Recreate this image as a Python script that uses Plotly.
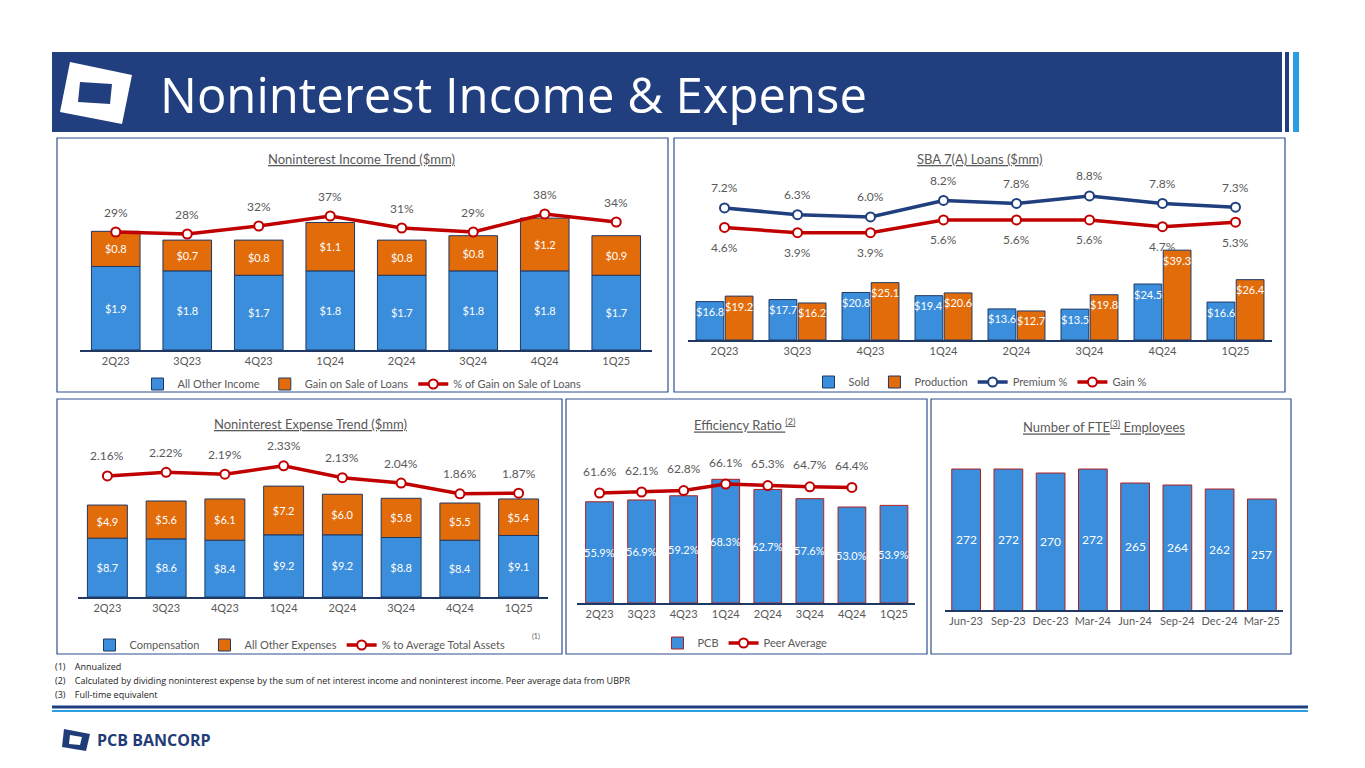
import plotly.graph_objects as go

W, H = 1349, 752  # page body keeps an 8px margin
OFF = 8

quarters = ["2Q23", "3Q23", "4Q23", "1Q24", "2Q24", "3Q24", "4Q24", "1Q25"]
months = ["Jun-23", "Sep-23", "Dec-23", "Mar-24", "Jun-24", "Sep-24", "Dec-24", "Mar-25"]

# Noninterest income ($mm)
other_income = [1.9, 1.8, 1.7, 1.8, 1.7, 1.8, 1.8, 1.7]
gain_on_sale = [0.8, 0.7, 0.8, 1.1, 0.8, 0.8, 1.2, 0.9]
gain_pct = [29, 28, 32, 37, 31, 29, 38, 34]

# SBA 7(A) loans ($mm)
sba_sold = [16.8, 17.7, 20.8, 19.4, 13.6, 13.5, 24.5, 16.6]
sba_production = [19.2, 16.2, 25.1, 20.6, 12.7, 19.8, 39.3, 26.4]
premium_pct = [7.2, 6.3, 6.0, 8.2, 7.8, 8.8, 7.8, 7.3]
gain_sba_pct = [4.6, 3.9, 3.9, 5.6, 5.6, 5.6, 4.7, 5.3]

# Noninterest expense ($mm)
compensation = [8.7, 8.6, 8.4, 9.2, 9.2, 8.8, 8.4, 9.1]
other_expense = [4.9, 5.6, 6.1, 7.2, 6.0, 5.8, 5.5, 5.4]
exp_to_assets = [2.16, 2.22, 2.19, 2.33, 2.13, 2.04, 1.86, 1.87]

# Efficiency ratio (%)
eff_pcb = [55.9, 56.9, 59.2, 68.3, 62.7, 57.6, 53.0, 53.9]
eff_peer = [61.6, 62.1, 62.8, 66.1, 65.3, 64.7, 64.4]

# FTE employees
fte = [272, 272, 270, 272, 265, 264, 262, 257]
FTE_MIN = 201.5

BLUE = "#3B8EDB"
ORANGE = "#E36C0A"
RED = "#C00000"
NAVY = "#203F7E"
GREY = "#595959"
FONT = "Lato"


def px(x):
    return (x - OFF) / W


def py(y):
    return 1 - (y - OFF) / H


def xd(a, b):
    return [px(a), px(b)]


def yd(top, bottom):
    return [py(bottom), py(top)]


fig = go.Figure()
bar_line = dict(color="#1F3864", width=1)
red_line = dict(color=RED, width=3.5)
red_marker = dict(color="white", size=9, line=dict(color=RED, width=2))
in_text = dict(color="white", size=11, family=FONT)

# Panel 1
fig.add_trace(go.Bar(x=quarters, y=other_income, name="All Other Income", marker=dict(color=BLUE, line=bar_line),
                     width=0.68, offset=-0.34, texttemplate="$%{y:.1f}", textposition="inside",
                     insidetextanchor="middle", textfont=in_text, xaxis="x", yaxis="y", legend="legend"))
fig.add_trace(go.Bar(x=quarters, y=gain_on_sale, base=other_income, name="Gain on Sale of Loans",
                     marker=dict(color=ORANGE, line=bar_line), width=0.68, offset=-0.34,
                     texttemplate="$%{y:.1f}", textposition="inside", insidetextanchor="middle",
                     textfont=in_text, xaxis="x", yaxis="y", legend="legend"))
fig.add_trace(go.Scatter(x=quarters, y=gain_pct, name="% of Gain on Sale of Loans", mode="lines+markers",
                         line=red_line, marker=red_marker, xaxis="x", yaxis="y2", legend="legend"))

# Panel 2
fig.add_trace(go.Bar(x=quarters, y=sba_sold, name="Sold", marker=dict(color=BLUE, line=bar_line),
                     width=0.38, offset=-0.39, xaxis="x2", yaxis="y3", legend="legend2"))
fig.add_trace(go.Bar(x=quarters, y=sba_production, name="Production", marker=dict(color=ORANGE, line=bar_line),
                     width=0.38, offset=0.01, xaxis="x2", yaxis="y3", legend="legend2"))
fig.add_trace(go.Scatter(x=quarters, y=premium_pct, name="Premium %", mode="lines+markers",
                         line=dict(color=NAVY, width=3.5),
                         marker=dict(color="white", size=9, line=dict(color=NAVY, width=2)),
                         xaxis="x2", yaxis="y4", legend="legend2"))
fig.add_trace(go.Scatter(x=quarters, y=gain_sba_pct, name="Gain %", mode="lines+markers",
                         line=red_line, marker=red_marker, xaxis="x2", yaxis="y4", legend="legend2"))

# Panel 3
fig.add_trace(go.Bar(x=quarters, y=compensation, name="Compensation", marker=dict(color=BLUE, line=bar_line),
                     width=0.68, offset=-0.34, texttemplate="$%{y:.1f}", textposition="inside",
                     insidetextanchor="middle", textfont=in_text, xaxis="x3", yaxis="y5", legend="legend3"))
fig.add_trace(go.Bar(x=quarters, y=other_expense, base=compensation, name="All Other Expenses",
                     marker=dict(color=ORANGE, line=bar_line), width=0.68, offset=-0.34,
                     texttemplate="$%{y:.1f}", textposition="inside", insidetextanchor="middle",
                     textfont=in_text, xaxis="x3", yaxis="y5", legend="legend3"))
fig.add_trace(go.Scatter(x=quarters, y=exp_to_assets, name="% to Average Total Assets", mode="lines+markers",
                         line=red_line, marker=red_marker, xaxis="x3", yaxis="y6", legend="legend3"))

# Panel 4
fig.add_trace(go.Bar(x=quarters, y=eff_pcb, name="PCB", marker=dict(color=BLUE, line=dict(color="#B02020", width=1)),
                     width=0.66, offset=-0.33, xaxis="x4", yaxis="y7", legend="legend4"))
fig.add_trace(go.Scatter(x=quarters[:len(eff_peer)], y=eff_peer, name="Peer Average", mode="lines+markers",
                         line=red_line, marker=red_marker, xaxis="x4", yaxis="y8", legend="legend4"))

# Panel 5
fig.add_trace(go.Bar(x=months, y=fte, marker=dict(color=BLUE, line=dict(color="#B02020", width=1)),
                     width=0.68, offset=-0.34, xaxis="x5", yaxis="y9", showlegend=False))

ax_common = dict(type="category", showgrid=False, zeroline=False, showline=True, linecolor="#1F3864",
                 linewidth=1.5, ticks="", tickfont=dict(color=GREY, size=11, family=FONT))
y_common = dict(visible=False, showgrid=False, zeroline=False)

layout_axes = dict(
    xaxis=dict(ax_common, domain=xd(80, 652), anchor="y"),
    yaxis=dict(y_common, domain=yd(190, 350), range=[0, 3.64], anchor="x"),
    yaxis2=dict(y_common, overlaying="y", anchor="x", range=[-30, 50]),
    xaxis2=dict(ax_common, domain=xd(688, 1272), anchor="y3"),
    yaxis3=dict(y_common, domain=yd(180, 340), range=[0, 70], anchor="x2"),
    yaxis4=dict(y_common, overlaying="y3", anchor="x2", range=[-10.4, 10.93]),
    xaxis3=dict(ax_common, domain=xd(78, 548), anchor="y5"),
    yaxis5=dict(y_common, domain=yd(430, 597), range=[0, 24.7], anchor="x3"),
    yaxis6=dict(y_common, overlaying="y5", anchor="x3", range=[0.13, 2.93]),
    xaxis4=dict(ax_common, domain=xd(577, 915), anchor="y7"),
    yaxis7=dict(y_common, domain=yd(440, 603), range=[0, 90], anchor="x4"),
    yaxis8=dict(y_common, overlaying="y7", anchor="x4", range=[6.6, 88.1]),
    xaxis5=dict(ax_common, domain=xd(945, 1283), anchor="y9"),
    yaxis9=dict(y_common, domain=yd(440, 610), range=[FTE_MIN, 286.5], anchor="x5"),
)

leg = dict(orientation="h", xanchor="center", yanchor="middle", font=dict(color=GREY, size=11, family=FONT),
           bgcolor="rgba(0,0,0,0)", itemwidth=30, traceorder="normal")

annotations = []


def label(xref, yref, xs, ys, fmt, shift, color=GREY, size=12, at=None):
    for i, (x, y) in enumerate(zip(xs, ys)):
        annotations.append(dict(x=x, y=y if at is None else at[i], xref=xref, yref=yref, text=fmt.format(y),
                                showarrow=False, yshift=shift, xanchor="center", yanchor="middle",
                                font=dict(color=color, size=size, family=FONT)))


label("x", "y2", quarters, gain_pct, "{:.0f}%", 20)
label("x2", "y4", quarters, premium_pct, "{:.1f}%", 20)
label("x2", "y4", quarters, gain_sba_pct, "{:.1f}%", -20)
label("x3", "y6", quarters, exp_to_assets, "{:.2f}%", 20)
label("x4", "y8", quarters, eff_peer, "{:.1f}%", 22)

# bar value labels that overflow the bar width
for i, q in enumerate(quarters):
    for vals, dx in ((sba_sold, -0.2), (sba_production, 0.2)):
        annotations.append(dict(x=i + dx, y=vals[i], xref="x2", yref="y3", text=f"${vals[i]:.1f}",
                                showarrow=False, yshift=-10, xanchor="center", yanchor="middle",
                                font=dict(color="white", size=11, family=FONT)))
label("x4", "y7", quarters, eff_pcb, "{:.1f}%", 0, color="white", size=11, at=[v / 2 for v in eff_pcb])
label("x5", "y9", months, fte, "{:d}", 0, color="white", size=12, at=[(v + FTE_MIN) / 2 for v in fte])


def text(x, y, t, size, color=GREY, family=FONT, xanchor="center"):
    annotations.append(dict(x=px(x), y=py(y), xref="paper", yref="paper", text=t, showarrow=False,
                            xanchor=xanchor, yanchor="middle", font=dict(color=color, size=size, family=family)))


text(362, 159, "<u>Noninterest Income Trend ($mm)</u>", 13)
text(980, 159, "<u>SBA 7(A) Loans ($mm)</u>", 13)
text(310, 424, "<u>Noninterest Expense Trend ($mm)</u>", 13)
text(745, 424, "<u>Efficiency Ratio <sup>(2)</sup></u>", 13)
text(1104, 426, "<u>Number of FTE<sup>(3)</sup> Employees</u>", 13)
text(158, 94, "Noninterest Income & Expense", 49, color="white", family="Open Sans", xanchor="left")
text(536, 636, "(1)", 7)
for i, t in enumerate(["(1)    Annualized",
                       "(2)    Calculated by dividing noninterest expense by the sum of net interest income and noninterest income. Peer average data from UBPR",
                       "(3)    Full-time equivalent"]):
    text(53, 666 + 14 * i, t, 9, color="#222222", family="Open Sans", xanchor="left")
text(95, 740, "<b>PCB BANCORP</b>", 16, color="#1F3C78", family="Open Sans", xanchor="left")


def rect(x0, y0, x1, y1, fill, line=None):
    return dict(type="rect", xref="paper", yref="paper", x0=px(x0), x1=px(x1), y0=py(y1), y1=py(y0),
                fillcolor=fill, line=line or dict(width=0))


def poly(pts, fill):
    path = "M " + " L ".join(f"{px(a)},{py(b)}" for a, b in pts) + " Z"
    return dict(type="path", xref="paper", yref="paper", path=path, fillcolor=fill, line=dict(width=0))


shapes = [
    rect(52, 52, 1282, 132, "#213F7F"),
    rect(1285, 52, 1289, 132, "#213F7F"),
    rect(1293, 52, 1299, 132, "#2A9FE0"),
    poly([(70, 62), (132, 75), (122, 124), (60, 112)], "white"),
    poly([(80, 82), (112, 84), (110, 104), (78, 102)], "#213F7F"),
    dict(type="line", xref="paper", yref="paper", x0=px(52), x1=px(1308), y0=py(707), y1=py(707),
         line=dict(color="#213F7F", width=3)),
    dict(type="line", xref="paper", yref="paper", x0=px(52), x1=px(1308), y0=py(711), y1=py(711),
         line=dict(color="#2A9FE0", width=2)),
    poly([(64, 729), (90, 734), (86, 751), (62, 747)], "#1F3C78"),
    poly([(70, 735), (82, 737), (80, 745), (69, 744)], "white"),
]
for x0, y0, x1, y1 in [(57, 138, 668, 392), (674, 138, 1285, 392), (57, 399, 562, 654),
                       (566, 399, 927, 654), (931, 399, 1291, 654)]:
    shapes.append(rect(x0, y0, x1, y1, "rgba(0,0,0,0)", dict(color="#2F4F8F", width=1.2)))

fig.update_layout(
    width=W, height=H, margin=dict(l=0, r=0, t=0, b=0), paper_bgcolor="white", plot_bgcolor="white",
    barmode="group", shapes=shapes, annotations=annotations,
    legend=dict(leg, x=px(362), y=py(384)),
    legend2=dict(leg, x=px(980), y=py(382)),
    legend3=dict(leg, x=px(300), y=py(645)),
    legend4=dict(leg, x=px(745), y=py(643)),
    **layout_axes,
)

fig.write_html("out.html")
